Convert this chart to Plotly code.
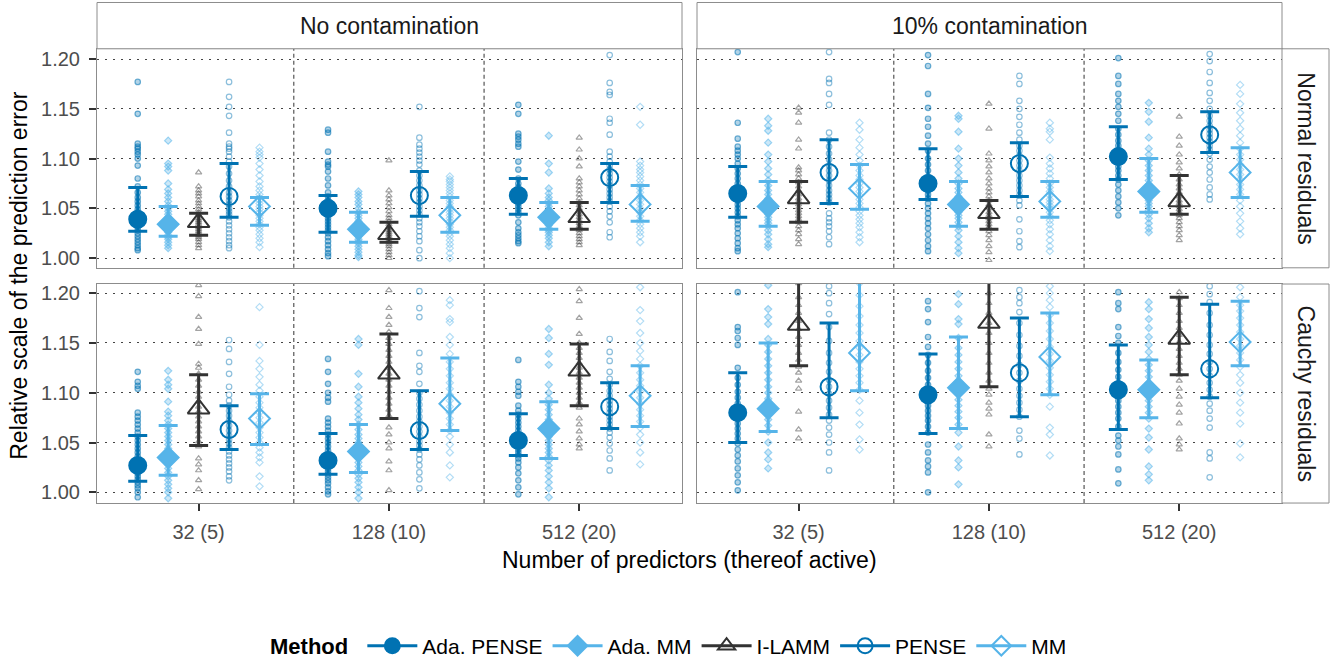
import plotly.graph_objects as go

W, H = 1340, 667

CATEGORIES = ["32 (5)", "128 (10)", "512 (20)"]
METHODS = ["Ada. PENSE", "Ada. MM", "I-LAMM", "PENSE", "MM"]
COLUMNS = ["No contamination", "10% contamination"]
ROWS = ["Normal residuals", "Cauchy residuals"]

# ---- replications (one list per predictor setting) ----
# No contamination, Normal residuals
NC_NORMAL_PTS = {
    "Ada. PENSE": [
        [1.177, 1.145, 1.115, 1.112, 1.110, 1.107, 1.104, 1.100, 1.093, 1.080, 1.072, 1.066, 1.061, 1.057, 1.053,
         1.049, 1.046, 1.043, 1.040, 1.037, 1.034, 1.031, 1.028, 1.025, 1.022, 1.019, 1.016, 1.013, 1.010, 1.008],
        [1.129, 1.126, 1.107, 1.097, 1.094, 1.092, 1.087, 1.080, 1.073, 1.066, 1.062, 1.058, 1.055, 1.052, 1.049,
         1.046, 1.043, 1.040, 1.037, 1.034, 1.031, 1.028, 1.025, 1.021, 1.017, 1.013, 1.009, 1.005, 1.002],
        [1.154, 1.145, 1.125, 1.122, 1.119, 1.115, 1.112, 1.097, 1.089, 1.080, 1.075, 1.071, 1.067, 1.064, 1.061,
         1.058, 1.055, 1.052, 1.049, 1.046, 1.043, 1.036, 1.030, 1.026, 1.023, 1.020, 1.017, 1.015],
    ],
    "Ada. MM": [
        [1.118, 1.095, 1.092, 1.088, 1.075, 1.069, 1.065, 1.061, 1.057, 1.053, 1.050, 1.047, 1.044, 1.041, 1.038,
         1.035, 1.032, 1.029, 1.026, 1.023, 1.021, 1.019, 1.016, 1.013, 1.010],
        [1.067, 1.064, 1.061, 1.057, 1.054, 1.050, 1.046, 1.043, 1.040, 1.037, 1.034, 1.031, 1.029, 1.027, 1.025,
         1.022, 1.019, 1.017, 1.015, 1.012, 1.009, 1.006, 1.003, 1.001],
        [1.123, 1.095, 1.086, 1.070, 1.065, 1.061, 1.058, 1.055, 1.052, 1.049, 1.046, 1.043, 1.040, 1.038, 1.036,
         1.033, 1.030, 1.028, 1.026, 1.023, 1.020, 1.016, 1.012],
    ],
    "I-LAMM": [
        [1.086, 1.072, 1.068, 1.065, 1.062, 1.058, 1.055, 1.052, 1.049, 1.046, 1.043, 1.040, 1.038, 1.036, 1.034,
         1.031, 1.029, 1.027, 1.025, 1.023, 1.021, 1.019, 1.016, 1.013, 1.010],
        [1.098, 1.068, 1.063, 1.059, 1.055, 1.051, 1.047, 1.043, 1.040, 1.037, 1.034, 1.031, 1.028, 1.026, 1.024,
         1.022, 1.020, 1.018, 1.016, 1.014, 1.012, 1.009, 1.006, 1.003, 1.000],
        [1.121, 1.109, 1.100, 1.092, 1.080, 1.076, 1.072, 1.068, 1.064, 1.060, 1.056, 1.053, 1.050, 1.047, 1.044,
         1.041, 1.038, 1.035, 1.032, 1.030, 1.028, 1.025, 1.022, 1.019, 1.016, 1.013],
    ],
    "PENSE": [
        [1.177, 1.162, 1.152, 1.143, 1.126, 1.115, 1.112, 1.110, 1.107, 1.102, 1.097, 1.092, 1.085, 1.078, 1.072,
         1.066, 1.062, 1.058, 1.054, 1.050, 1.047, 1.044, 1.041, 1.037, 1.033, 1.029, 1.025, 1.021, 1.017, 1.013, 1.010],
        [1.152, 1.121, 1.114, 1.110, 1.106, 1.102, 1.098, 1.094, 1.088, 1.083, 1.078, 1.073, 1.068, 1.064, 1.060,
         1.056, 1.052, 1.048, 1.044, 1.040, 1.036, 1.032, 1.027, 1.022, 1.017, 1.008, 1.000],
        [1.204, 1.176, 1.167, 1.164, 1.140, 1.136, 1.124, 1.107, 1.102, 1.097, 1.093, 1.089, 1.085, 1.081, 1.077,
         1.073, 1.069, 1.065, 1.061, 1.057, 1.052, 1.047, 1.042, 1.036, 1.026, 1.021],
    ],
    "MM": [
        [1.111, 1.107, 1.104, 1.101, 1.095, 1.089, 1.083, 1.077, 1.072, 1.068, 1.064, 1.061, 1.058, 1.055, 1.052,
         1.049, 1.046, 1.043, 1.040, 1.037, 1.034, 1.031, 1.028, 1.024, 1.020, 1.016, 1.011],
        [1.082, 1.079, 1.077, 1.074, 1.071, 1.068, 1.065, 1.062, 1.058, 1.055, 1.052, 1.049, 1.046, 1.043, 1.040,
         1.037, 1.034, 1.031, 1.028, 1.025, 1.022, 1.018, 1.014, 1.010, 1.005, 1.000],
        [1.152, 1.134, 1.097, 1.093, 1.089, 1.086, 1.082, 1.078, 1.074, 1.070, 1.066, 1.062, 1.058, 1.054, 1.050,
         1.046, 1.042, 1.038, 1.034, 1.030, 1.026, 1.022, 1.016],
    ],
}

# 10% contamination, Normal residuals
C10_NORMAL_PTS = {
    "Ada. PENSE": [
        [1.207, 1.136, 1.120, 1.112, 1.108, 1.104, 1.100, 1.095, 1.090, 1.085, 1.080, 1.075, 1.070, 1.066, 1.062,
         1.058, 1.054, 1.050, 1.046, 1.042, 1.038, 1.034, 1.030, 1.025, 1.020, 1.015, 1.010, 1.007],
        [1.204, 1.193, 1.165, 1.151, 1.140, 1.132, 1.123, 1.115, 1.108, 1.100, 1.094, 1.088, 1.082, 1.077, 1.072,
         1.068, 1.064, 1.060, 1.055, 1.050, 1.045, 1.040, 1.035, 1.030, 1.024, 1.018, 1.012, 1.007],
        [1.201, 1.183, 1.175, 1.165, 1.158, 1.152, 1.145, 1.138, 1.130, 1.124, 1.118, 1.113, 1.108, 1.104, 1.100,
         1.096, 1.092, 1.088, 1.083, 1.079, 1.074, 1.068, 1.062, 1.056, 1.050, 1.043],
    ],
    "Ada. MM": [
        [1.140, 1.133, 1.128, 1.116, 1.104, 1.097, 1.090, 1.084, 1.078, 1.073, 1.068, 1.064, 1.060, 1.056, 1.053,
         1.050, 1.047, 1.044, 1.041, 1.038, 1.035, 1.032, 1.028, 1.024, 1.019, 1.014, 1.011],
        [1.143, 1.140, 1.127, 1.110, 1.100, 1.093, 1.086, 1.080, 1.075, 1.070, 1.066, 1.062, 1.058, 1.055, 1.052,
         1.049, 1.046, 1.043, 1.040, 1.036, 1.032, 1.028, 1.022, 1.016, 1.010, 1.005],
        [1.156, 1.147, 1.137, 1.121, 1.110, 1.104, 1.098, 1.093, 1.088, 1.083, 1.078, 1.074, 1.070, 1.067, 1.064,
         1.061, 1.058, 1.055, 1.052, 1.048, 1.044, 1.040, 1.035, 1.030, 1.026],
    ],
    "I-LAMM": [
        [1.151, 1.146, 1.136, 1.119, 1.110, 1.091, 1.088, 1.084, 1.080, 1.076, 1.072, 1.068, 1.064, 1.060, 1.057,
         1.054, 1.051, 1.048, 1.045, 1.042, 1.039, 1.036, 1.032, 1.028, 1.024, 1.019, 1.014],
        [1.155, 1.130, 1.105, 1.098, 1.092, 1.086, 1.080, 1.075, 1.070, 1.066, 1.062, 1.058, 1.054, 1.050, 1.046,
         1.043, 1.040, 1.037, 1.034, 1.031, 1.027, 1.023, 1.018, 1.012, 1.006, 0.998],
        [1.142, 1.122, 1.113, 1.104, 1.096, 1.090, 1.084, 1.079, 1.074, 1.070, 1.066, 1.062, 1.058, 1.055, 1.052,
         1.049, 1.046, 1.043, 1.040, 1.036, 1.032, 1.028, 1.023, 1.018],
    ],
    "PENSE": [
        [1.207, 1.180, 1.176, 1.165, 1.154, 1.126, 1.119, 1.112, 1.105, 1.099, 1.093, 1.088, 1.083, 1.078, 1.073,
         1.068, 1.064, 1.060, 1.056, 1.045, 1.040, 1.036, 1.032, 1.027, 1.021, 1.014],
        [1.183, 1.175, 1.158, 1.150, 1.142, 1.134, 1.126, 1.119, 1.113, 1.108, 1.103, 1.098, 1.093, 1.088, 1.083,
         1.078, 1.073, 1.068, 1.063, 1.058, 1.053, 1.039, 1.027, 1.017, 1.011],
        [1.205, 1.198, 1.187, 1.176, 1.166, 1.158, 1.150, 1.143, 1.138, 1.133, 1.129, 1.125, 1.121, 1.117, 1.113,
         1.109, 1.105, 1.099, 1.092, 1.086, 1.079, 1.071, 1.064, 1.059],
    ],
    "MM": [
        [1.136, 1.129, 1.119, 1.111, 1.104, 1.098, 1.093, 1.088, 1.083, 1.079, 1.075, 1.071, 1.067, 1.063, 1.059,
         1.055, 1.051, 1.047, 1.043, 1.039, 1.035, 1.031, 1.026, 1.021, 1.016],
        [1.136, 1.130, 1.127, 1.119, 1.101, 1.095, 1.090, 1.085, 1.080, 1.075, 1.071, 1.067, 1.063, 1.059, 1.056,
         1.053, 1.050, 1.046, 1.042, 1.038, 1.034, 1.029, 1.024, 1.018, 1.012, 1.007],
        [1.174, 1.165, 1.155, 1.146, 1.138, 1.130, 1.123, 1.116, 1.110, 1.104, 1.099, 1.094, 1.089, 1.084, 1.079,
         1.074, 1.069, 1.064, 1.058, 1.052, 1.045, 1.037, 1.030, 1.024],
    ],
}

# No contamination, Cauchy residuals
NC_CAUCHY_PTS = {
    "Ada. PENSE": [
        [1.121, 1.111, 1.107, 1.104, 1.080, 1.076, 1.072, 1.068, 1.064, 1.060, 1.056, 1.052, 1.048, 1.044, 1.040,
         1.036, 1.032, 1.028, 1.025, 1.022, 1.019, 1.016, 1.013, 1.010, 1.007, 1.004, 1.000, 0.995],
        [1.134, 1.121, 1.109, 1.100, 1.095, 1.091, 1.074, 1.070, 1.066, 1.062, 1.058, 1.054, 1.050, 1.046, 1.042,
         1.038, 1.034, 1.030, 1.027, 1.024, 1.021, 1.018, 1.015, 1.012, 1.009, 1.005, 1.001, 0.998],
        [1.133, 1.111, 1.106, 1.101, 1.097, 1.087, 1.082, 1.078, 1.074, 1.070, 1.066, 1.062, 1.058, 1.055, 1.052,
         1.049, 1.046, 1.043, 1.040, 1.037, 1.034, 1.030, 1.025, 1.019, 1.012, 1.005, 0.998],
    ],
    "Ada. MM": [
        [1.122, 1.113, 1.108, 1.104, 1.091, 1.081, 1.077, 1.072, 1.068, 1.064, 1.060, 1.056, 1.052, 1.048, 1.044,
         1.040, 1.036, 1.032, 1.028, 1.024, 1.020, 1.016, 1.012, 1.008, 1.004, 1.000, 0.994],
        [1.154, 1.148, 1.119, 1.106, 1.096, 1.090, 1.084, 1.078, 1.073, 1.068, 1.063, 1.058, 1.054, 1.050, 1.046,
         1.042, 1.038, 1.034, 1.030, 1.026, 1.022, 1.018, 1.014, 1.010, 1.005, 1.000, 0.994],
        [1.164, 1.155, 1.139, 1.128, 1.108, 1.100, 1.094, 1.088, 1.083, 1.078, 1.073, 1.068, 1.064, 1.060, 1.056,
         1.052, 1.048, 1.044, 1.040, 1.036, 1.032, 1.027, 1.022, 1.016, 1.010, 1.004, 0.995],
    ],
    "I-LAMM": [
        [1.208, 1.197, 1.176, 1.164, 1.149, 1.129, 1.125, 1.119, 1.113, 1.107, 1.101, 1.096, 1.091, 1.086, 1.081,
         1.076, 1.071, 1.066, 1.061, 1.056, 1.051, 1.046, 1.034, 1.028, 1.022, 1.012, 1.003],
        [1.203, 1.185, 1.176, 1.168, 1.161, 1.155, 1.149, 1.143, 1.137, 1.131, 1.125, 1.119, 1.113, 1.107, 1.101,
         1.095, 1.089, 1.083, 1.077, 1.065, 1.058, 1.050, 1.044, 1.031, 1.022, 1.002],
        [1.204, 1.192, 1.175, 1.159, 1.150, 1.145, 1.140, 1.135, 1.130, 1.125, 1.120, 1.115, 1.110, 1.105, 1.100,
         1.095, 1.090, 1.085, 1.074, 1.068, 1.061, 1.054, 1.048, 1.044],
    ],
    "PENSE": [
        [1.153, 1.144, 1.131, 1.119, 1.106, 1.098, 1.092, 1.087, 1.082, 1.077, 1.072, 1.067, 1.062, 1.057, 1.053,
         1.049, 1.045, 1.041, 1.037, 1.033, 1.029, 1.025, 1.021, 1.016, 1.012],
        [1.202, 1.185, 1.176, 1.140, 1.127, 1.121, 1.109, 1.100, 1.094, 1.088, 1.082, 1.076, 1.071, 1.066, 1.061,
         1.056, 1.051, 1.047, 1.043, 1.038, 1.033, 1.027, 1.020, 1.013, 1.004],
        [1.154, 1.141, 1.132, 1.121, 1.114, 1.108, 1.102, 1.097, 1.092, 1.088, 1.084, 1.080, 1.076, 1.072, 1.068,
         1.064, 1.060, 1.055, 1.049, 1.042, 1.034, 1.022],
    ],
    "MM": [
        [1.186, 1.148, 1.132, 1.124, 1.116, 1.108, 1.102, 1.096, 1.090, 1.085, 1.080, 1.075, 1.070, 1.065, 1.060,
         1.055, 1.050, 1.045, 1.040, 1.035, 1.030, 1.016, 1.006],
        [1.193, 1.188, 1.174, 1.171, 1.156, 1.148, 1.139, 1.131, 1.124, 1.117, 1.110, 1.104, 1.098, 1.092, 1.086,
         1.080, 1.074, 1.068, 1.062, 1.056, 1.048, 1.040, 1.027, 1.015],
        [1.206, 1.183, 1.172, 1.160, 1.150, 1.142, 1.134, 1.127, 1.120, 1.113, 1.107, 1.101, 1.095, 1.089, 1.083,
         1.077, 1.071, 1.065, 1.058, 1.050, 1.040, 1.028],
    ],
}

# 10% contamination, Cauchy residuals
C10_CAUCHY_PTS = {
    "Ada. PENSE": [
        [1.201, 1.166, 1.162, 1.155, 1.148, 1.125, 1.115, 1.108, 1.101, 1.095, 1.089, 1.084, 1.079, 1.074, 1.069,
         1.064, 1.059, 1.054, 1.049, 1.043, 1.037, 1.031, 1.024, 1.017, 1.010, 1.002],
        [1.192, 1.184, 1.171, 1.156, 1.146, 1.138, 1.130, 1.122, 1.115, 1.108, 1.102, 1.097, 1.092, 1.087, 1.082,
         1.077, 1.072, 1.066, 1.060, 1.048, 1.040, 1.032, 1.026, 1.020, 1.000],
        [1.201, 1.190, 1.184, 1.166, 1.157, 1.150, 1.140, 1.131, 1.123, 1.116, 1.110, 1.104, 1.098, 1.092, 1.086,
         1.080, 1.074, 1.066, 1.057, 1.052, 1.046, 1.038, 1.023, 1.009],
    ],
    "Ada. MM": [
        [1.208, 1.184, 1.176, 1.169, 1.154, 1.148, 1.141, 1.134, 1.127, 1.120, 1.113, 1.106, 1.100, 1.094, 1.088,
         1.083, 1.078, 1.073, 1.067, 1.061, 1.050, 1.040, 1.033, 1.024],
        [1.199, 1.189, 1.174, 1.169, 1.155, 1.145, 1.138, 1.131, 1.124, 1.117, 1.111, 1.105, 1.099, 1.093, 1.087,
         1.081, 1.075, 1.068, 1.060, 1.046, 1.032, 1.025, 1.008],
        [1.191, 1.184, 1.174, 1.165, 1.156, 1.148, 1.141, 1.134, 1.128, 1.122, 1.116, 1.110, 1.104, 1.098, 1.092,
         1.086, 1.080, 1.074, 1.064, 1.055, 1.043, 1.026, 1.018, 1.012],
    ],
    "I-LAMM": [
        [1.250, 1.235, 1.222, 1.210, 1.196, 1.188, 1.180, 1.172, 1.164, 1.156, 1.148, 1.140, 1.133, 1.126, 1.120,
         1.112, 1.104, 1.081, 1.063, 1.054],
        [1.260, 1.240, 1.225, 1.212, 1.200, 1.190, 1.180, 1.170, 1.160, 1.150, 1.140, 1.130, 1.120, 1.112, 1.104,
         1.098, 1.090, 1.084, 1.078, 1.058, 1.046],
        [1.201, 1.195, 1.188, 1.180, 1.172, 1.165, 1.158, 1.151, 1.144, 1.137, 1.130, 1.124, 1.118, 1.112, 1.104,
         1.096, 1.088, 1.080, 1.069, 1.054, 1.048, 1.043],
    ],
    "PENSE": [
        [1.207, 1.200, 1.190, 1.179, 1.166, 1.152, 1.140, 1.130, 1.121, 1.113, 1.106, 1.099, 1.092, 1.085, 1.078,
         1.072, 1.065, 1.058, 1.050, 1.040, 1.022],
        [1.203, 1.196, 1.190, 1.181, 1.170, 1.158, 1.147, 1.137, 1.128, 1.120, 1.112, 1.104, 1.097, 1.090, 1.083,
         1.076, 1.062, 1.054, 1.038],
        [1.207, 1.199, 1.191, 1.180, 1.168, 1.158, 1.148, 1.139, 1.131, 1.124, 1.117, 1.110, 1.103, 1.096, 1.089,
         1.082, 1.074, 1.065, 1.040, 1.034, 1.015],
    ],
    "MM": [
        [1.240, 1.225, 1.210, 1.198, 1.187, 1.177, 1.168, 1.160, 1.152, 1.145, 1.138, 1.131, 1.124, 1.117, 1.110,
         1.103, 1.092, 1.080, 1.068, 1.053, 1.043],
        [1.207, 1.200, 1.193, 1.186, 1.178, 1.170, 1.162, 1.154, 1.146, 1.139, 1.132, 1.125, 1.118, 1.111, 1.104,
         1.098, 1.086, 1.065, 1.058, 1.037],
        [1.206, 1.196, 1.188, 1.182, 1.175, 1.168, 1.161, 1.154, 1.147, 1.140, 1.133, 1.126, 1.118, 1.110, 1.100,
         1.090, 1.080, 1.069, 1.049, 1.035],
    ],
}

# ---- summaries: median and interval per method (32, 128, 512 predictors) ----
NC_NORMAL_MED = {"Ada. PENSE": [1.039, 1.050, 1.063], "Ada. MM": [1.034, 1.029, 1.041],
                 "I-LAMM": [1.036, 1.024, 1.041], "PENSE": [1.062, 1.063, 1.081], "MM": [1.052, 1.043, 1.054]}
NC_NORMAL_LO = {"Ada. PENSE": [1.027, 1.026, 1.044], "Ada. MM": [1.022, 1.016, 1.029],
                "I-LAMM": [1.023, 1.016, 1.029], "PENSE": [1.041, 1.042, 1.056], "MM": [1.033, 1.026, 1.037]}
NC_NORMAL_HI = {"Ada. PENSE": [1.071, 1.063, 1.080], "Ada. MM": [1.052, 1.046, 1.056],
                "I-LAMM": [1.045, 1.036, 1.056], "PENSE": [1.095, 1.087, 1.095], "MM": [1.061, 1.061, 1.073]}

C10_NORMAL_MED = {"Ada. PENSE": [1.065, 1.075, 1.102], "Ada. MM": [1.052, 1.054, 1.067],
                  "I-LAMM": [1.060, 1.045, 1.057], "PENSE": [1.086, 1.095, 1.124], "MM": [1.070, 1.057, 1.086]}
C10_NORMAL_LO = {"Ada. PENSE": [1.041, 1.059, 1.079], "Ada. MM": [1.032, 1.032, 1.046],
                 "I-LAMM": [1.036, 1.029, 1.044], "PENSE": [1.055, 1.062, 1.106], "MM": [1.049, 1.041, 1.061]}
C10_NORMAL_HI = {"Ada. PENSE": [1.092, 1.110, 1.132], "Ada. MM": [1.077, 1.077, 1.100],
                 "I-LAMM": [1.077, 1.058, 1.083], "PENSE": [1.119, 1.116, 1.147], "MM": [1.094, 1.077, 1.111]}

NC_CAUCHY_MED = {"Ada. PENSE": [1.027, 1.032, 1.052], "Ada. MM": [1.035, 1.041, 1.064],
                 "I-LAMM": [1.084, 1.119, 1.122], "PENSE": [1.063, 1.062, 1.086], "MM": [1.074, 1.089, 1.097]}
NC_CAUCHY_LO = {"Ada. PENSE": [1.011, 1.018, 1.037], "Ada. MM": [1.017, 1.020, 1.034],
                "I-LAMM": [1.047, 1.074, 1.087], "PENSE": [1.043, 1.043, 1.064], "MM": [1.048, 1.062, 1.066]}
NC_CAUCHY_HI = {"Ada. PENSE": [1.057, 1.059, 1.079], "Ada. MM": [1.067, 1.068, 1.091],
                "I-LAMM": [1.118, 1.159, 1.149], "PENSE": [1.087, 1.102, 1.110], "MM": [1.099, 1.135, 1.127]}

C10_CAUCHY_MED = {"Ada. PENSE": [1.080, 1.098, 1.103], "Ada. MM": [1.084, 1.105, 1.103],
                  "I-LAMM": [1.168, 1.170, 1.154], "PENSE": [1.106, 1.120, 1.124], "MM": [1.140, 1.136, 1.151]}
C10_CAUCHY_LO = {"Ada. PENSE": [1.050, 1.059, 1.063], "Ada. MM": [1.061, 1.064, 1.075],
                 "I-LAMM": [1.127, 1.106, 1.118], "PENSE": [1.075, 1.076, 1.095], "MM": [1.102, 1.098, 1.127]}
C10_CAUCHY_HI = {"Ada. PENSE": [1.120, 1.139, 1.148], "Ada. MM": [1.150, 1.156, 1.133],
                 "I-LAMM": [1.245, 1.250, 1.196], "PENSE": [1.170, 1.175, 1.189], "MM": [1.235, 1.180, 1.192]}

Y_TICKS = [1.00, 1.05, 1.10, 1.15, 1.20]

# ---- styling ----
FONT = "Liberation Sans, Arial, Helvetica, sans-serif"
BORDER = "#8c8c8c"
STYLE = {
    "Ada. PENSE": dict(color="#0072B2", symbol="circle", size=17, small="circle"),
    "Ada. MM": dict(color="#56B4E9", symbol="diamond", size=16, small="diamond"),
    "I-LAMM": dict(color="#333333", symbol="triangle-up-open", size=19, small="triangle-up-open"),
    "PENSE": dict(color="#0072B2", symbol="circle-open", size=17, small="circle-open"),
    "MM": dict(color="#56B4E9", symbol="diamond-open", size=16, small="diamond-open"),
}
DODGE = 0.16
X_RANGE = [0.466, 3.54]


def rgba(hex_color, a):
    h = hex_color.lstrip("#")
    r, g, b = int(h[0:2], 16), int(h[2:4], 16), int(h[4:6], 16)
    return f"rgba({r},{g},{b},{a})"


def px_x(v):
    return v / W


def px_y(v):
    return 1 - v / H


XDOM = [[px_x(97), px_x(682)], [px_x(697), px_x(1282)]]
YDOM = [[px_y(267), px_y(47)], [px_y(503.3), px_y(283.3)]]
Y_RANGES = [[0.9903, 1.2103], [0.9892, 1.2092]]

PANELS = [
    (NC_NORMAL_PTS, NC_NORMAL_MED, NC_NORMAL_LO, NC_NORMAL_HI, 0, 0),
    (C10_NORMAL_PTS, C10_NORMAL_MED, C10_NORMAL_LO, C10_NORMAL_HI, 0, 1),
    (NC_CAUCHY_PTS, NC_CAUCHY_MED, NC_CAUCHY_LO, NC_CAUCHY_HI, 1, 0),
    (C10_CAUCHY_PTS, C10_CAUCHY_MED, C10_CAUCHY_LO, C10_CAUCHY_HI, 1, 1),
]

fig = go.Figure()
layout_axes = {}
shapes = []

for p, (pts, med, lo, hi, r, c) in enumerate(PANELS):
    sfx = "" if p == 0 else str(p + 1)
    xa, ya = "x" + sfx, "y" + sfx

    # replication points
    for k, m in enumerate(METHODS):
        st = STYLE[m]
        xs, ys = [], []
        for i, vals in enumerate(pts[m]):
            xs += [i + 1 + (k - 2) * DODGE] * len(vals)
            ys += vals
        is_open = st["small"].endswith("open")
        fig.add_trace(go.Scatter(
            x=xs, y=ys, mode="markers", xaxis=xa, yaxis=ya,
            showlegend=False, hoverinfo="skip",
            marker=dict(
                symbol=st["small"], size=5.5,
                color=rgba(st["color"], 0.45 if is_open else 0.3),
                line=dict(width=1.2, color=rgba(st["color"], 0.55)),
            ),
        ))

    # median + interval
    for k, m in enumerate(METHODS):
        st = STYLE[m]
        xs = [i + 1 + (k - 2) * DODGE for i in range(len(CATEGORIES))]
        fig.add_trace(go.Scatter(
            x=xs, y=med[m], mode="markers", xaxis=xa, yaxis=ya,
            showlegend=False, name=m,
            error_y=dict(
                type="data", symmetric=False,
                array=[h - v for h, v in zip(hi[m], med[m])],
                arrayminus=[v - l for v, l in zip(med[m], lo[m])],
                color=st["color"], thickness=3, width=9.5,
            ),
            marker=dict(symbol=st["symbol"], size=st["size"], color=st["color"],
                        line=dict(width=2, color=st["color"])),
        ))

    bottom = r == 1
    layout_axes["xaxis" + sfx] = dict(
        domain=XDOM[c], range=X_RANGE, anchor=ya,
        tickvals=[1, 2, 3], ticktext=CATEGORIES, showticklabels=bottom,
        ticks="outside" if bottom else "", ticklen=7, tickwidth=1.6, tickcolor="#333333",
        ticklabelstandoff=4,
        tickfont=dict(family=FONT, size=20, color="#4D4D4D"),
        showgrid=False, zeroline=False,
        showline=True, linecolor=BORDER, linewidth=1, mirror=True,
    )
    left = c == 0
    layout_axes["yaxis" + sfx] = dict(
        domain=YDOM[r], range=Y_RANGES[r], anchor=xa,
        tickvals=Y_TICKS, ticktext=[f"{v:.2f}" for v in Y_TICKS], showticklabels=left,
        ticks="outside" if left else "", ticklen=7, tickwidth=1.6, tickcolor="#333333",
        ticklabelstandoff=5,
        tickfont=dict(family=FONT, size=20, color="#4D4D4D"),
        showgrid=True, gridcolor="#444444", gridwidth=1.3, griddash="2px,6px",
        zeroline=False,
        showline=True, linecolor=BORDER, linewidth=1, mirror=True,
    )

    for xv in [1.5, 2.5]:
        shapes.append(dict(
            type="line", xref=xa, yref=ya + " domain", x0=xv, x1=xv, y0=0, y1=1,
            line=dict(color="#555555", width=1.2, dash="4px,3px"), layer="below",
        ))

# legend entries (line through marker, like the errorbar key)
for m in METHODS:
    st = STYLE[m]
    fig.add_trace(go.Scatter(
        x=[None], y=[None], mode="lines+markers", name=m,
        line=dict(color=st["color"], width=3),
        marker=dict(symbol=st["symbol"], size=15, color=st["color"],
                    line=dict(width=2, color=st["color"])),
    ))

# facet strips
annotations = []
for c, label in enumerate(COLUMNS):
    shapes.append(dict(type="rect", xref="paper", yref="paper",
                       x0=XDOM[c][0], x1=XDOM[c][1], y0=px_y(47), y1=px_y(0.5),
                       fillcolor="white", line=dict(color=BORDER, width=1)))
    annotations.append(dict(text=label, xref="paper", yref="paper",
                            x=(XDOM[c][0] + XDOM[c][1]) / 2, y=px_y(24),
                            xanchor="center", yanchor="middle", showarrow=False,
                            font=dict(family=FONT, size=23, color="#1A1A1A")))
for r, label in enumerate(ROWS):
    shapes.append(dict(type="rect", xref="paper", yref="paper",
                       x0=px_x(1282), x1=px_x(1329), y0=YDOM[r][0], y1=YDOM[r][1],
                       fillcolor="white", line=dict(color=BORDER, width=1)))
    annotations.append(dict(text=label, xref="paper", yref="paper",
                            x=px_x(1306), y=(YDOM[r][0] + YDOM[r][1]) / 2, textangle=90,
                            xanchor="center", yanchor="middle", showarrow=False,
                            font=dict(family=FONT, size=23, color="#1A1A1A")))

# axis titles
annotations.append(dict(text="Number of predictors (thereof active)", xref="paper", yref="paper",
                        x=px_x(689.5), y=px_y(561), xanchor="center", yanchor="middle",
                        showarrow=False, font=dict(family=FONT, size=23, color="black")))
annotations.append(dict(text="Relative scale of the prediction error", xref="paper", yref="paper",
                        x=px_x(19), y=px_y(275), textangle=-90, xanchor="center", yanchor="middle",
                        showarrow=False, font=dict(family=FONT, size=23, color="black")))

fig.update_layout(
    width=W, height=H, autosize=False,
    margin=dict(l=0, r=0, t=0, b=0),
    paper_bgcolor="white", plot_bgcolor="white",
    font=dict(family=FONT, size=21, color="black"),
    shapes=shapes, annotations=annotations,
    legend=dict(
        orientation="h", x=0.5, xanchor="center", y=px_y(647), yanchor="middle",
        title=dict(text="<b>Method</b> ", font=dict(family=FONT, size=22, color="black")),
        font=dict(family=FONT, size=21, color="black"),
        itemwidth=50,
    ),
    **layout_axes,
)

fig.write_html("out.html", config={"displayModeBar": False},
               post_script="document.body.style.margin='0px';")
